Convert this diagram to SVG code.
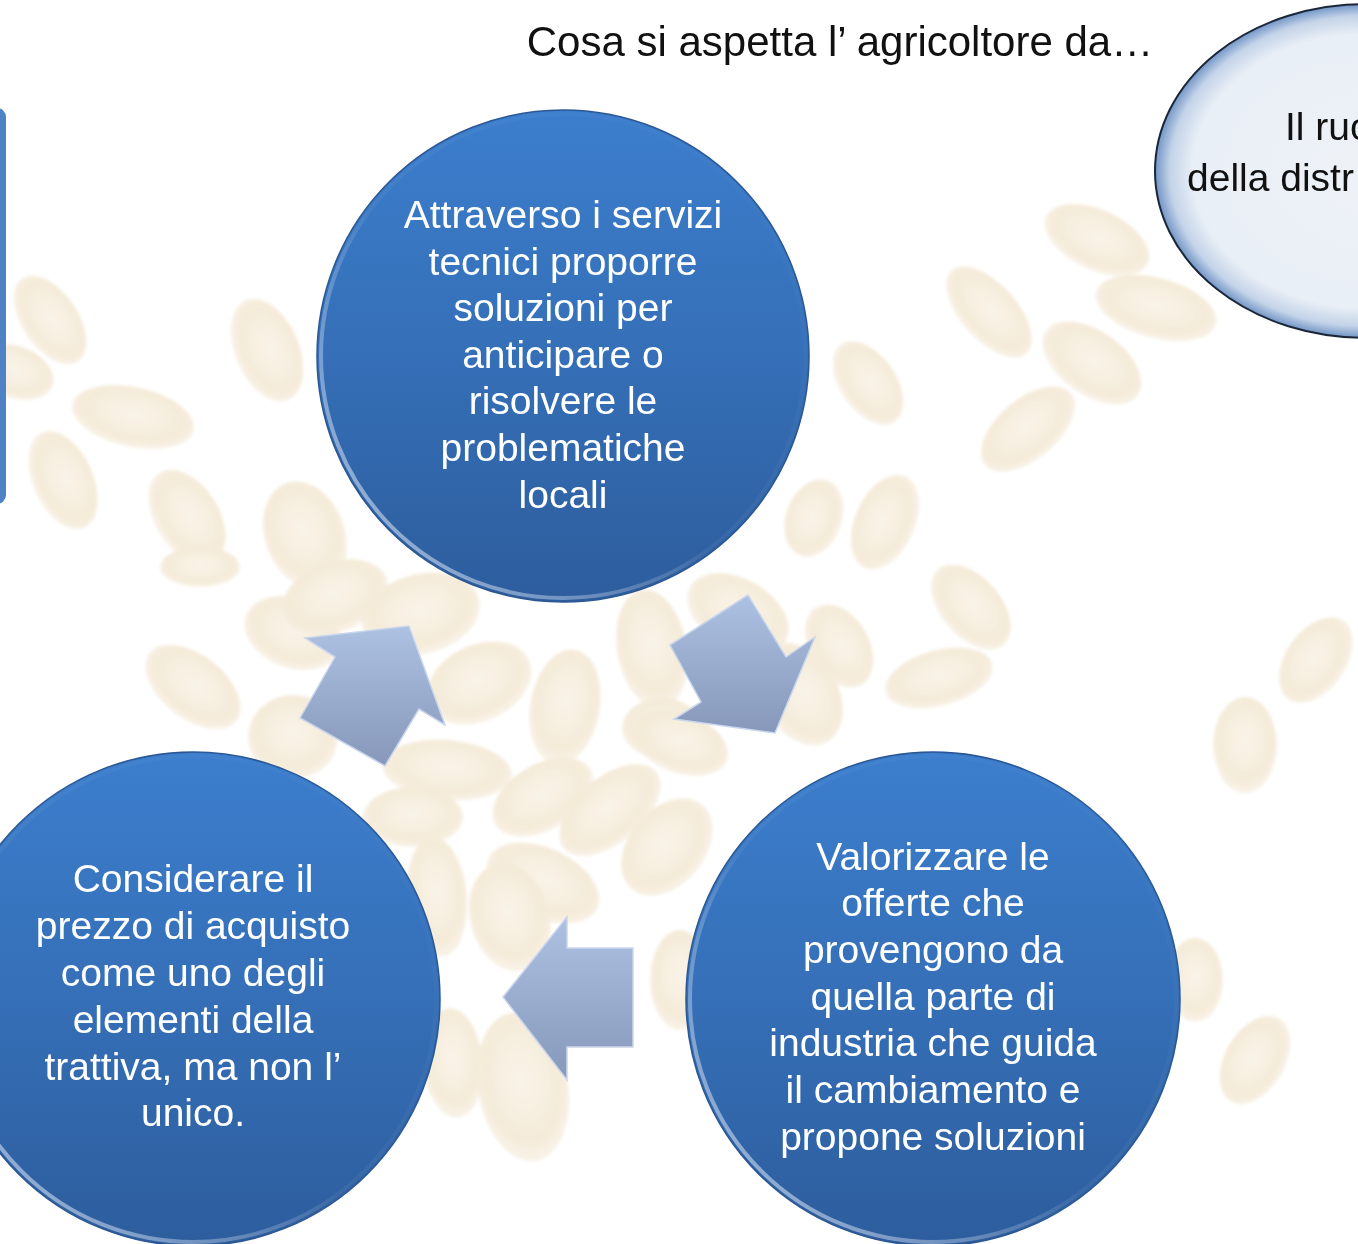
<svg xmlns="http://www.w3.org/2000/svg" width="1358" height="1244" viewBox="0 0 1358 1244">
<defs>
<style>
.node-text{font-family:"Liberation Sans",Arial,sans-serif;font-size:39px;fill:#ffffff;text-anchor:middle}
.title{font-family:"Liberation Sans",Arial,sans-serif;font-size:42px;fill:#111111;text-anchor:middle}
.bubble-text{font-family:"Liberation Sans",Arial,sans-serif;font-size:39px;fill:#111111}
.grain{fill:url(#grainG)}
.circle{fill:url(#blueG);stroke:#2b5894;stroke-width:1.5}
.rim{fill:none;stroke:url(#rimG);stroke-width:4}
.arrow{fill:url(#arrowG);stroke:#c9d6ec;stroke-width:1.5;stroke-linejoin:miter}
</style>
<filter id="soft" x="-10%" y="-10%" width="120%" height="120%">
<feGaussianBlur stdDeviation="1.6"/>
</filter>
<radialGradient id="grainG" cx="0.5" cy="0.45" r="0.6">
<stop offset="0" stop-color="#f7efe0"/>
<stop offset="0.7" stop-color="#f1e3ca"/>
<stop offset="1" stop-color="#f2e6d2" stop-opacity="0.5"/>
</radialGradient>
<linearGradient id="blueG" x1="0" y1="0" x2="0" y2="1">
<stop offset="0" stop-color="#3c7ecd"/>
<stop offset="0.5" stop-color="#356fb7"/>
<stop offset="1" stop-color="#2d5d9d"/>
</linearGradient>
<linearGradient id="rimG" x1="1" y1="0" x2="0" y2="1">
<stop offset="0" stop-color="#ffffff" stop-opacity="0"/>
<stop offset="0.55" stop-color="#ffffff" stop-opacity="0.05"/>
<stop offset="1" stop-color="#d8e6fb" stop-opacity="0.75"/>
</linearGradient>
<linearGradient id="arrowG" x1="0" y1="0" x2="0" y2="1">
<stop offset="0" stop-color="#adc1e3"/>
<stop offset="1" stop-color="#8798ba"/>
</linearGradient>
<radialGradient id="bubbleG" cx="0.5" cy="0.5" r="0.5">
<stop offset="0" stop-color="#eef2f7"/>
<stop offset="0.82" stop-color="#e9eff6"/>
<stop offset="0.93" stop-color="#c3d3e8"/>
<stop offset="1" stop-color="#7295c6"/>
</radialGradient>
</defs>

<rect x="0" y="0" width="1358" height="1244" fill="#ffffff"/>

<g id="background" opacity="0.72" filter="url(#soft)">
<ellipse class="grain" cx="50" cy="320" rx="50" ry="28" transform="rotate(56 50 320)"/>
<ellipse class="grain" cx="15" cy="372" rx="40" ry="26" transform="rotate(20 15 372)"/>
<ellipse class="grain" cx="133" cy="417" rx="62" ry="30" transform="rotate(12 133 417)"/>
<ellipse class="grain" cx="63" cy="480" rx="52" ry="30" transform="rotate(66 63 480)"/>
<ellipse class="grain" cx="187" cy="517" rx="52" ry="32" transform="rotate(58 187 517)"/>
<ellipse class="grain" cx="267" cy="350" rx="54" ry="32" transform="rotate(67 267 350)"/>
<ellipse class="grain" cx="305" cy="535" rx="40" ry="55" transform="rotate(-20 305 535)"/>
<ellipse class="grain" cx="200" cy="567" rx="40" ry="20"/>
<ellipse class="grain" cx="193" cy="687" rx="55" ry="32" transform="rotate(38 193 687)"/>
<ellipse class="grain" cx="293" cy="633" rx="50" ry="35" transform="rotate(20 293 633)"/>
<ellipse class="grain" cx="293" cy="737" rx="45" ry="42"/>
<ellipse class="grain" cx="335" cy="597" rx="55" ry="35" transform="rotate(-20 335 597)"/>
<ellipse class="grain" cx="421" cy="614" rx="60" ry="40" transform="rotate(-15 421 614)"/>
<ellipse class="grain" cx="479" cy="683" rx="55" ry="38" transform="rotate(-25 479 683)"/>
<ellipse class="grain" cx="565" cy="707" rx="35" ry="58" transform="rotate(10 565 707)"/>
<ellipse class="grain" cx="652" cy="649" rx="35" ry="60" transform="rotate(-10 652 649)"/>
<ellipse class="grain" cx="738" cy="614" rx="55" ry="35" transform="rotate(30 738 614)"/>
<ellipse class="grain" cx="800" cy="694" rx="55" ry="38" transform="rotate(60 800 694)"/>
<ellipse class="grain" cx="662" cy="728" rx="40" ry="30"/>
<ellipse class="grain" cx="680" cy="743" rx="50" ry="30" transform="rotate(20 680 743)"/>
<ellipse class="grain" cx="1097" cy="240" rx="56" ry="30" transform="rotate(25 1097 240)"/>
<ellipse class="grain" cx="989" cy="312" rx="56" ry="28" transform="rotate(48 989 312)"/>
<ellipse class="grain" cx="1156" cy="308" rx="62" ry="30" transform="rotate(15 1156 308)"/>
<ellipse class="grain" cx="1092" cy="363" rx="56" ry="32" transform="rotate(35 1092 363)"/>
<ellipse class="grain" cx="1028" cy="429" rx="56" ry="30" transform="rotate(-40 1028 429)"/>
<ellipse class="grain" cx="868" cy="383" rx="47" ry="28" transform="rotate(55 868 383)"/>
<ellipse class="grain" cx="885" cy="522" rx="50" ry="30" transform="rotate(-66 885 522)"/>
<ellipse class="grain" cx="814" cy="518" rx="40" ry="28" transform="rotate(-70 814 518)"/>
<ellipse class="grain" cx="971" cy="607" rx="50" ry="30" transform="rotate(49 971 607)"/>
<ellipse class="grain" cx="839" cy="646" rx="45" ry="30" transform="rotate(60 839 646)"/>
<ellipse class="grain" cx="939" cy="678" rx="55" ry="28" transform="rotate(-15 939 678)"/>
<ellipse class="grain" cx="1316" cy="660" rx="48" ry="30" transform="rotate(-55 1316 660)"/>
<ellipse class="grain" cx="1245" cy="745" rx="32" ry="48"/>
<ellipse class="grain" cx="1255" cy="1060" rx="48" ry="30" transform="rotate(-60 1255 1060)"/>
<ellipse class="grain" cx="1195" cy="980" rx="28" ry="42"/>
<ellipse class="grain" cx="447" cy="770" rx="65" ry="30" transform="rotate(5 447 770)"/>
<ellipse class="grain" cx="543" cy="797" rx="55" ry="33" transform="rotate(-30 543 797)"/>
<ellipse class="grain" cx="610" cy="810" rx="60" ry="33" transform="rotate(-40 610 810)"/>
<ellipse class="grain" cx="667" cy="847" rx="55" ry="38" transform="rotate(-50 667 847)"/>
<ellipse class="grain" cx="543" cy="883" rx="60" ry="35" transform="rotate(25 543 883)"/>
<ellipse class="grain" cx="413" cy="817" rx="50" ry="30"/>
<ellipse class="grain" cx="437" cy="897" rx="30" ry="60" transform="rotate(-5 437 897)"/>
<ellipse class="grain" cx="510" cy="917" rx="40" ry="55" transform="rotate(-15 510 917)"/>
<ellipse class="grain" cx="453" cy="1063" rx="30" ry="55" transform="rotate(-5 453 1063)"/>
<ellipse class="grain" cx="523" cy="1087" rx="45" ry="75" transform="rotate(-10 523 1087)"/>
<ellipse class="grain" cx="680" cy="980" rx="30" ry="50"/>
</g>

<rect id="left-panel" x="-20" y="108" width="26" height="396" rx="9" fill="#4f82c4"/>

<text class="title" x="840" y="56">Cosa si aspetta l’ agricoltore da…</text>

<g id="bubble-ruolo">
<ellipse cx="1366" cy="171" rx="211" ry="167" fill="url(#bubbleG)" stroke="#1b2738" stroke-width="2"/>
<text class="bubble-text" x="1285" y="140">Il ruo</text>
<text class="bubble-text" x="1187" y="191">della distr</text>
</g>

<g id="connectors">
<polygon id="arrow-up" class="arrow" points="300,718 335,657 305,638 409,626 445,725 419,709 385,766"/>
<polygon id="arrow-down" class="arrow" points="670,645 748,595 786,657 815,637 775,733 674,719 701,702"/>
<polygon id="arrow-left" class="arrow" points="503,997 567,917 567,948 633,948 633,1047 567,1047 567,1080"/>
</g>

<g id="node-servizi">
<circle class="circle" cx="563" cy="356" r="246"/>
<circle class="rim" cx="563" cy="356" r="242"/>
<text class="node-text" x="563" y="228">Attraverso i servizi</text>
<text class="node-text" x="563" y="275">tecnici proporre</text>
<text class="node-text" x="563" y="321">soluzioni per</text>
<text class="node-text" x="563" y="368">anticipare o</text>
<text class="node-text" x="563" y="414">risolvere le</text>
<text class="node-text" x="563" y="461">problematiche</text>
<text class="node-text" x="563" y="508">locali</text>
</g>

<g id="node-valorizzare">
<circle class="circle" cx="933" cy="999" r="247"/>
<circle class="rim" cx="933" cy="999" r="243"/>
<text class="node-text" x="933" y="870">Valorizzare le</text>
<text class="node-text" x="933" y="916">offerte che</text>
<text class="node-text" x="933" y="963">provengono da</text>
<text class="node-text" x="933" y="1010">quella parte di</text>
<text class="node-text" x="933" y="1056">industria che guida</text>
<text class="node-text" x="933" y="1103">il cambiamento e</text>
<text class="node-text" x="933" y="1150">propone soluzioni</text>
</g>

<g id="node-prezzo">
<circle class="circle" cx="193" cy="999" r="247"/>
<circle class="rim" cx="193" cy="999" r="243"/>
<text class="node-text" x="193" y="892">Considerare il</text>
<text class="node-text" x="193" y="939">prezzo di acquisto</text>
<text class="node-text" x="193" y="986">come uno degli</text>
<text class="node-text" x="193" y="1033">elementi della</text>
<text class="node-text" x="193" y="1080">trattiva, ma non l’</text>
<text class="node-text" x="193" y="1126">unico.</text>
</g>
</svg>
